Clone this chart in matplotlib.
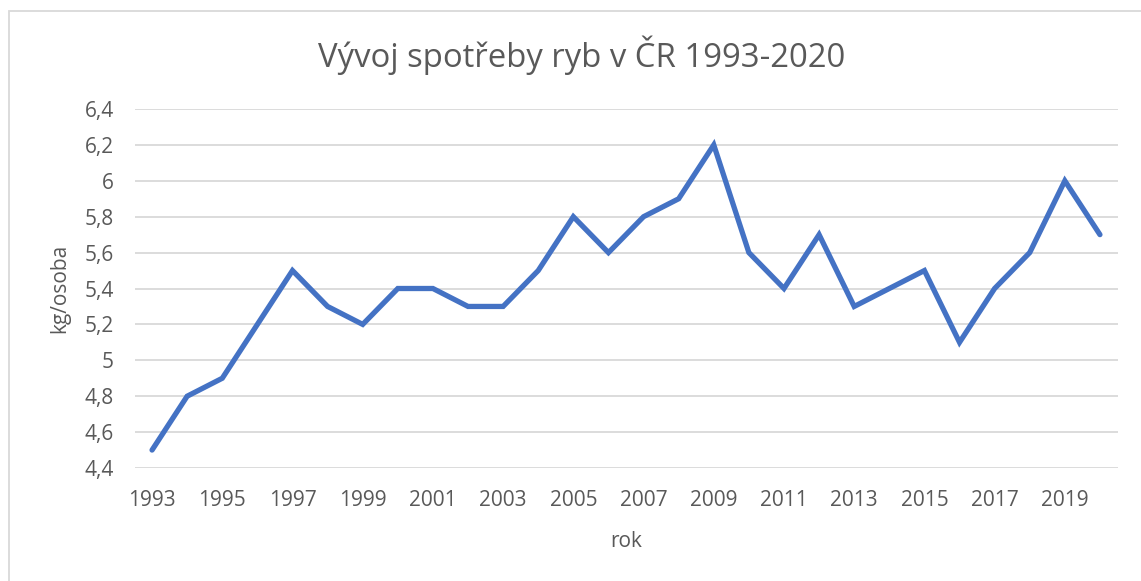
import matplotlib
matplotlib.use('Agg')
import matplotlib.pyplot as plt
from matplotlib.patches import Rectangle

# Data
roky = list(range(1993, 2021))
spotreba = [4.5, 4.8, 4.9, 5.2, 5.5, 5.3, 5.2, 5.4, 5.4, 5.3,
            5.3, 5.5, 5.8, 5.6, 5.8, 5.9, 6.2, 5.6, 5.4, 5.7,
            5.3, 5.4, 5.5, 5.1, 5.4, 5.6, 6.0, 5.7]
y_ticks = [4.4, 4.6, 4.8, 5.0, 5.2, 5.4, 5.6, 5.8, 6.0, 6.2, 6.4]

text_color = '#595959'
grid_color = '#D9D9D9'
line_color = '#4472C4'

plt.rcParams['font.family'] = ['Open Sans', 'DejaVu Sans']

W, H = 1141, 581
fig = plt.figure(figsize=(W / 100, H / 100), dpi=100)

left, right, top, bottom = 134.5, 1117.5, 109, 468
ax = fig.add_axes([left / W, (H - bottom) / H, (right - left) / W, (bottom - top) / H])

x = list(range(len(roky)))
ax.plot(x, spotreba, color=line_color, linewidth=3.8, solid_capstyle='round',
        solid_joinstyle='miter')

ax.set_xlim(-0.5, len(roky) - 0.5)
ax.set_ylim(4.4, 6.4)
ax.set_yticks(y_ticks)
ax.set_yticklabels([('%g' % v).replace('.', ',') for v in y_ticks])
ax.set_xticks(x[::2])
ax.set_xticklabels([str(r) for r in roky[::2]])

ax.grid(axis='y', color=grid_color, linewidth=1.3)
ax.set_axisbelow(True)
for s in ax.spines.values():
    s.set_visible(False)
ax.tick_params(length=0, labelsize=15, colors=text_color)
ax.tick_params(axis='y', pad=15)
ax.tick_params(axis='x', pad=16)

ax.set_xlabel('rok', fontsize=15, color=text_color, labelpad=14)
ax.set_ylabel('kg/osoba', fontsize=15, color=text_color, labelpad=10)

fig.text(582 / W, 1 - 55 / H, 'Vývoj spotřeby ryb v ČR 1993-2020', ha='center', va='center',
         fontsize=23.7, color=text_color)

# chart frame (only top and left edge visible)
fig.patches.append(Rectangle((9 / W, -0.1), 1.2, 1.1 - 11 / H, transform=fig.transFigure,
                             fill=False, edgecolor=grid_color, linewidth=1.3))

fig.savefig('out.png', dpi=100, facecolor='white')
